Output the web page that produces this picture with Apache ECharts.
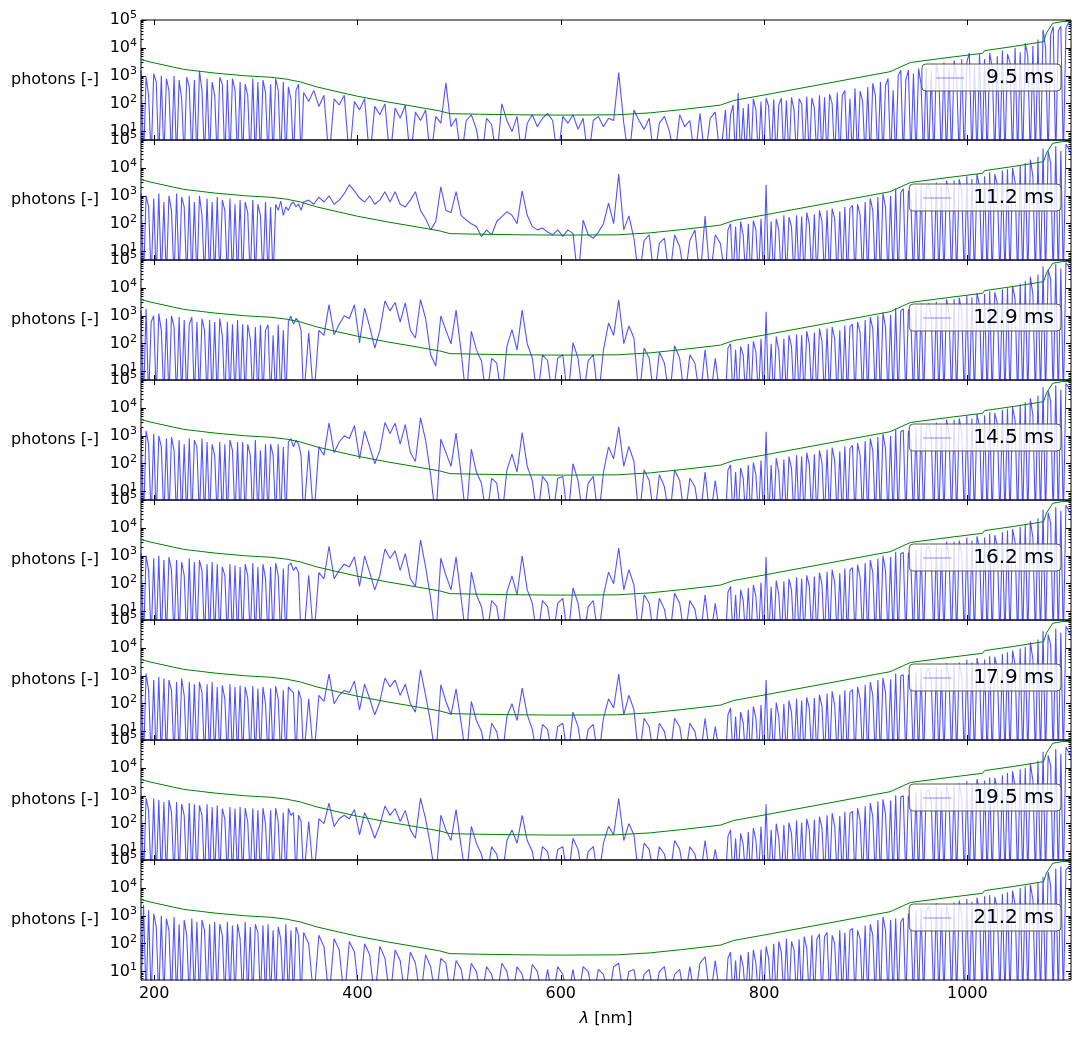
<!DOCTYPE html>
<html>
<head>
<meta charset="utf-8">
<script src="https://cdn.jsdelivr.net/npm/echarts@6/dist/echarts.min.js"></script>
<style>
html,body{margin:0;padding:0;background:#fff;}
#chart{width:1082px;height:1037px;}
</style>
</head>
<body>
<div id="chart"></div>
<script>
// wavelength grids [nm]: UV and IR sampled every 2.5 nm, visible every 5 nm
const wlUV = [187,189.5,192,194.5,197,199.5,202,204.5,207,209.5, 212,214.5,217,219.5,222,224.5,227,229.5,232,234.5,
  237,239.5,242,244.5,247,249.5,252,254.5,257,259.5, 262,264.5,267,269.5,272,274.5,277,279.5,282,284.5,
  287,289.5,292,294.5,297,299.5,302,304.5,307,309.5, 312,314.5,317,319.5,322,324.5,327,329.5,332,334.5,
  337,339.5,342,344.5];
const wlVis = [347,352,357,362,367,372,377,382,387,392, 397,402,407,412,417,422,427,432,437,442,
  447,452,457,462,467,472,477,482,487,492, 497,502,507,512,517,522,527,532,537,542,
  547,552,557,562,567,572,577,582,587,592, 597,602,607,612,617,622,627,632,637,642,
  647,652,657,662,667,672,677,682,687,692, 697,702,707,712,717,722,727,732,737,742,
  747,752,757];
const wlIR = [762,764.5,767,769.5,772,774.5,777,779.5,782,784.5, 787,789.5,792,794.5,797,799.5,802,804.5,807,809.5,
  812,814.5,817,819.5,822,824.5,827,829.5,832,834.5, 837,839.5,842,844.5,847,849.5,852,854.5,857,859.5,
  862,864.5,867,869.5,872,874.5,877,879.5,882,884.5, 887,889.5,892,894.5,897,899.5,902,904.5,907,909.5,
  912,914.5,917,919.5,922,924.5,927,929.5,932,934.5, 937,939.5,942,944.5,947,949.5,952,954.5,957,959.5,
  962,964.5,967,969.5,972,974.5,977,979.5,982,984.5, 987,989.5,992,994.5,997,999.5,1002,1004.5,1007,1009.5,
  1012,1014.5,1017,1019.5,1022,1024.5,1027,1029.5,1032,1034.5, 1037,1039.5,1042,1044.5,1047,1049.5,1052,1054.5,1057,1059.5,
  1062,1064.5,1067,1069.5,1072,1074.5,1077,1079.5,1082,1084.5, 1087,1089.5,1092,1094.5,1097,1099.5,1102];

const exposures = ['9.5 ms','11.2 ms','12.9 ms','14.5 ms','16.2 ms','17.9 ms','19.5 ms','21.2 ms'];

// photon counts (1 = below the plotted range)
const uv_9_5 = [1500,1,900,200,1,1200,600,1,1000,1, 800,300,1,1000,1,700,150,1,900,400,
  1,700,1,1500,300,1,800,1,600,200, 1,900,500,1,700,1,800,300,1,600,
  1,500,200,1,800,1,600,1,700,250, 1,500,1,800,300,1,600,1,400,150, 1,300,500,1];
const vis_9_5 = [250,120,300,80,200,1,150,90,200,1, 120,60,150,1,80,40,100,1,70,30,
  90,1,50,25,60,1,35,20,560,15, 30,1,25,40,12,1,30,18,1,100, 25,10,35,1,20,40,15,30,45,25,
  1,35,20,40,12,30,1,25,35,15, 30,25,1300,20,1,60,25,12,30,1, 20,35,10,1,40,15,25,1,45,1, 30,50,1];
const ir_9_5 = [60,1,40,90,1,240,1,70,1,100, 1,150,60,1,120,1,160,80,1,140,
  1,90,160,1,130,1,170,60,1,150, 100,1,180,1,160,70,1,200,1,170,
  1,220,100,1,250,1,200,300,1,150, 1,350,1,280,120,1,400,1,550,200,
  1,600,1,450,800,1,300,1,1000,1600, 1,700,1600,1,1200,1,1800,500,1,2000,
  1,1500,1,2500,800,1,3000,1,2000,1, 3500,1000,1,4000,1,3000,6600,1,2500,1,
  6000,1,4000,1,6600,2000,1,5000,1,8000, 1,6000,3000,1,10000,1,7000,1,15000,5000,
  1,12000,1,20000,1,44000,10000,1,30000,58000, 1,40000,60000,1,50000,80000,60000];

const uv_11_2 = [1200,1,1000,400,1,800,1,1200,1,600, 1,1000,300,1,1200,1,900,400,1,1000,
  1,600,1,1000,200,1,800,1,600,1, 900,1,700,300,1,800,1,500,1,700,
  1,600,250,1,700,1,500,200,1,600, 1,400,1,500,300,650,200,400,300,500, 600,400,500,300];
const vis_11_2 = [600,700,500,900,600,1000,500,700,1200,2500, 1500,830,600,1000,500,700,1400,600,1400,500,
  400,700,1400,300,150,60,120,2100,300,250, 1400,200,135,100,80,34,60,40,120,180,
  270,200,100,1500,200,80,60,70,50,40, 60,35,60,45,1,135,40,30,50,100,
  550,100,6000,60,190,30,1,25,40,1, 20,30,1,40,15,1,25,60,1,190, 1,40,20];
const ir_11_2 = [1,60,100,1,80,1,120,40,1,100, 1,130,60,1,150,1,2500,1,120,1,
  150,60,1,200,1,170,80,1,200,1, 180,1,250,100,1,220,1,300,120,1,
  300,1,350,150,1,280,1,400,1,350, 450,1,500,200,1,600,1,800,300,1,
  900,1,1200,400,1,1000,1,1800,1,1300, 1800,1,1500,600,1,2000,1,2500,1,1800,
  2500,900,1,3000,1,2200,1,3500,1200,1, 3500,1,4000,1500,1,5000,1,4000,1,6000,
  2000,1,5000,1,7000,1,6000,2500,1,8000, 1,9000,1,10000,3000,1,12000,1,15000,1,
  20000,5000,1,25000,1,50000,1,40000,15000,1, 60000,1,40000,1,70000,50000,30000];

const uv_12_9 = [1500,1,1800,1,600,1000,1,1200,300,1, 800,1,1000,400,1,900,1,700,1,500,
  900,1,600,1,800,300,1,700,1,600, 1,800,200,1,600,1,500,1,700,1,
  500,1,480,150,1,400,1,480,1,300, 480,1,200,1,480,1,300,1,600,980, 500,800,650,300];
const vis_12_9 = [1,240,1,300,200,2500,210,500,1000,800, 2500,107,1900,400,70,300,3400,1500,3000,600,
  2900,300,160,3800,800,40,16,980,300,100, 1600,50,1,280,60,24,1,30,20,1,
  80,320,60,1600,100,30,1,40,25,1, 30,40,1,110,30,1,25,40,1,60,
  550,200,3700,100,430,160,1,70,30,1, 50,20,1,85,30,1,40,20,1,60, 1,30,1];
const ir_12_9 = [1,70,100,1,60,1,80,40,1,100, 1,120,50,1,150,1,1400,1,100,1,
  180,60,1,150,1,200,80,1,220,1, 200,1,280,100,1,250,1,350,120,1,
  350,1,400,150,1,300,1,450,1,400, 500,1,600,250,1,700,1,900,350,1,
  1000,1,1300,400,1,1100,1,1900,1,1500, 1800,1,1700,700,1,2200,1,2800,1,2000,
  2800,1000,1,3200,1,2500,1,4000,1300,1, 4000,1,4500,1500,1,5500,1,4500,1,6500,
  2500,1,6000,1,7500,1,7000,3000,1,9000, 1,10000,1,12000,4000,1,14000,1,18000,1,
  25000,6000,1,30000,1,60000,1,45000,20000,1, 70000,1,50000,1,80000,60000,40000];

const uv_14_5 = [2000,1,1500,500,1,1200,1,1000,400,1, 800,1,900,300,1,700,1,500,1,800,
  1,700,400,1,800,1,600,1,500,200, 1,600,1,500,1,700,300,1,600,1,
  600,1,500,200,1,700,1,300,1,500, 1,500,200,1,500,1,400,1,600,800, 400,700,500,200];
const vis_14_5 = [1,300,1,400,200,2900,250,600,1000,800, 2300,150,1500,400,100,300,3000,1200,2800,500,
  2500,250,120,4400,700,40,1,770,250,80, 1250,40,1,330,50,20,1,30,20,1,
  60,220,50,1300,80,25,1,35,20,1, 30,35,1,100,25,1,20,35,1,50,
  400,150,2100,80,420,120,1,60,25,1, 40,15,1,60,25,1,30,15,1,50, 1,25,1];
const ir_14_5 = [1,60,90,1,50,1,70,30,1,90, 1,110,40,1,130,1,1400,1,90,1,
  160,50,1,140,1,180,70,1,200,1, 180,1,250,90,1,220,1,300,110,1,
  320,1,380,130,1,280,1,420,1,350, 450,1,550,200,1,650,1,800,300,1,
  900,1,1200,350,1,1000,1,1700,1,1400, 1600,1,1500,600,1,2000,1,2600,1,1900,
  2600,900,1,3000,1,2300,1,3800,1200,1, 3800,1,4200,1400,1,5200,1,4200,1,6000,
  2200,1,5500,1,7000,1,6500,2800,1,8500, 1,9500,1,11000,3500,1,13000,1,16000,1,
  22000,5500,1,28000,1,55000,1,42000,18000,1, 65000,1,45000,1,75000,55000,35000];

const uv_16_2 = [1200,1,1000,300,1,800,1,1000,1,700, 1,900,300,1,700,1,600,200,1,800,
  1,600,1,700,300,1,500,1,600,1, 500,1,400,200,1,500,1,450,1,400,
  1,500,200,1,550,1,400,1,500,150, 1,400,1,550,200,1,350,1,450,550, 300,400,250,1];
const vis_16_2 = [1,200,1,250,150,2200,150,300,500,400, 920,80,1000,250,60,200,1750,800,1500,300,
  1200,150,80,3700,400,30,1,830,200,60, 920,30,1,260,40,15,1,25,15,1,
  50,190,40,1000,60,20,1,25,15,1, 20,30,1,70,20,1,15,25,1,40,
  260,100,1900,60,320,90,1,40,20,1, 30,12,1,45,20,1,25,12,1,40, 1,20,1];
const ir_16_2 = [1,50,80,1,40,1,60,25,1,70, 1,90,35,1,110,1,900,1,80,1,
  130,40,1,120,1,150,60,1,170,1, 150,1,200,80,1,180,1,250,90,1,
  270,1,320,110,1,240,1,350,1,300, 380,1,480,170,1,550,1,700,250,1,
  800,1,1000,300,1,900,1,1400,1,1200, 1300,1,1300,500,1,1600,1,2200,1,1600,
  2200,800,1,2500,1,2000,1,3200,1000,1, 3200,1,3500,1200,1,4500,1,3500,1,5000,
  1800,1,4500,1,6000,1,5500,2200,1,7000, 1,8000,1,9000,3000,1,11000,1,13000,1,
  18000,4500,1,22000,1,45000,1,35000,15000,1, 55000,1,40000,1,65000,45000,30000];

const uv_17_9 = [1000,1,1200,300,1,700,1,900,1,800, 1,700,300,1,600,1,800,200,1,600,
  1,500,1,600,250,1,500,1,600,1, 400,1,450,150,1,500,1,400,1,450,
  1,400,150,1,430,1,350,1,400,100, 1,350,1,430,150,1,300,1,400,300, 250,1,300,150];
const vis_17_9 = [1,150,1,200,120,1150,100,200,300,250, 650,60,500,150,40,120,830,400,700,200,
  500,100,50,1650,200,20,1,480,120,40, 340,20,1,120,25,10,1,20,10,1,
  35,100,25,360,40,12,1,18,12,1, 15,20,1,50,15,1,12,18,1,30,
  150,70,1150,40,200,60,1,30,15,1, 20,10,1,30,15,1,20,10,1,30, 1,15,1];
const ir_17_9 = [1,40,70,1,35,1,50,20,1,60, 1,80,30,1,90,1,700,1,70,1,
  110,35,1,100,1,130,50,1,150,1, 130,1,170,70,1,160,1,210,80,1,
  230,1,280,90,1,210,1,300,1,260, 320,1,400,150,1,480,1,600,200,1,
  700,1,850,250,1,750,1,1200,1,1000, 1100,1,1100,400,1,1400,1,1900,1,1400,
  1900,700,1,2200,1,1700,1,2800,900,1, 2700,1,3000,1000,1,3800,1,3000,1,4300,
  1500,1,3800,1,5000,1,4800,1900,1,6000, 1,7000,1,8000,2500,1,9500,1,11000,1,
  16000,4000,1,20000,1,40000,1,30000,13000,1, 50000,1,35000,1,60000,40000,28000];

const uv_19_5 = [1000,1,830,300,1,800,1,700,1,600, 1,700,250,1,600,1,500,200,1,550,
  1,500,1,450,200,1,500,1,400,1, 450,1,350,150,1,400,1,350,1,400,
  1,360,120,1,350,1,300,1,360,100, 1,300,1,360,120,1,250,1,350,200, 250,1,200,120];
const vis_19_5 = [1,120,1,150,100,550,80,150,200,150, 320,40,250,100,30,90,430,200,350,120,
  300,60,30,830,150,15,1,200,60,25, 320,15,1,80,20,8,1,15,8,1,
  25,60,20,200,25,10,1,15,10,1, 12,15,1,30,12,1,10,15,1,20,
  80,40,800,25,100,40,1,20,12,1, 15,8,1,25,12,1,15,8,1,25, 1,12,1];
const ir_19_5 = [1,35,60,1,30,1,45,18,1,50, 1,70,25,1,80,1,500,1,60,1,
  100,30,1,90,1,110,45,1,130,1, 110,1,150,60,1,140,1,180,70,1,
  200,1,240,80,1,190,1,270,1,230, 280,1,360,130,1,420,1,550,180,1,
  620,1,750,220,1,680,1,1050,1,900, 1000,1,1000,350,1,1300,1,1700,1,1300,
  1700,600,1,2000,1,1500,1,2500,800,1, 2400,1,2800,900,1,3400,1,2700,1,4000,
  1400,1,3500,1,4500,1,4400,1700,1,5500, 1,6500,1,7500,2200,1,9000,1,10000,1,
  15000,3500,1,18000,1,38000,1,28000,12000,1, 48000,1,32000,1,55000,38000,25000];

const uv_21_2 = [1,2500,1,1600,1,1200,400,1,1000,1, 800,300,1,900,1,500,1,700,200,1,
  800,1,600,1,700,300,1,500,1,600, 1,500,200,1,600,1,450,1,500,150,
  1,600,1,400,1,500,250,1,450,1, 500,1,300,1,400,150,1,500,1,300, 1,400,200,1];
const vis_21_2 = [250,100,1,200,80,1,150,60,1,120, 50,1,100,40,1,80,30,1,60,25,
  1,50,20,1,40,15,1,30,20,1, 25,12,1,20,10,1,15,8,1,20,
  10,1,15,8,1,18,10,1,12,1, 15,8,1,12,1,15,10,1,12,8,
  1,15,20,1,10,12,1,8,12,1, 10,15,1,8,12,1,15,1,20,34, 1,25,1];
const ir_21_2 = [1,30,50,1,25,1,40,15,1,50, 1,60,20,1,60,1,80,30,1,100,
  1,120,50,1,150,1,120,60,1,140, 1,180,70,1,200,1,150,220,1,180,
  250,1,200,100,1,310,1,250,1,300, 350,1,300,150,1,450,1,500,200,1,
  700,1,930,300,1,700,1,800,1,600, 830,1,1200,400,1,1500,1,2000,1,1500,
  2200,800,1,2900,1,2000,1,2500,900,1, 3000,1,3500,1200,1,4000,1,3200,1,4500,
  1500,1,5000,1,5600,1,4800,2000,1,6000, 1,7000,1,8000,2500,1,10000,1,12000,1,
  13000,4000,1,15000,1,25000,1,38000,12000,1, 50000,1,58000,1,45000,55000,40000];

// green reference curve
const refWl  = [187,200,229,260,290,314,330,344,360,380,400,430,460,481,491,520,560,600,655,688,720,757,770,800,850,900,924,944,980,1015,1017,1045,1075,1078,1084,1093,1102];
const refVal = [3800,2900,1700,1250,1000,890,760,600,400,270,185,115,75,55,44,42,40,39,40,47,62,89,130,205,445,970,1400,3000,4460,6400,8000,11200,16700,35000,76000,87000,90000];

const xTicks = [200,400,600,800,1000];
const yMajor = [10,100,1000,10000,100000];
const yMinor = [6,7,8,9,20,30,40,50,60,70,80,90,200,300,400,500,600,700,800,900,
  2000,3000,4000,5000,6000,7000,8000,9000,20000,30000,40000,50000,60000,70000,80000,90000];

const wavelengths = wlUV.concat(wlVis, wlIR);
const spectra = [
    uv_9_5.concat(vis_9_5, ir_9_5),
    uv_11_2.concat(vis_11_2, ir_11_2),
    uv_12_9.concat(vis_12_9, ir_12_9),
    uv_14_5.concat(vis_14_5, ir_14_5),
    uv_16_2.concat(vis_16_2, ir_16_2),
    uv_17_9.concat(vis_17_9, ir_17_9),
    uv_19_5.concat(vis_19_5, ir_19_5),
    uv_21_2.concat(vis_21_2, ir_21_2)
];

const font = 'DejaVu Sans';
const chart = echarts.init(document.getElementById('chart'));

let grids = [], xAxes = [], yAxes = [], series = [], legends = [];
exposures.forEach((name, i) => {
    const top = 20 + 120 * i;
    const last = i === exposures.length - 1;
    grids.push({left: 141, right: 11, top: top, height: 120, show: true,
        borderColor: '#000', borderWidth: 1, backgroundColor: 'transparent'});
    ['bottom', 'top'].forEach(pos => {
        xAxes.push({
            type: 'value', gridIndex: i, min: 187, max: 1102, position: pos,
            axisLine: {show: false}, splitLine: {show: false},
            axisTick: {inside: true, length: 5, customValues: xTicks, lineStyle: {color: '#000'}},
            axisLabel: {show: last && pos === 'bottom', customValues: xTicks, margin: 6,
                formatter: v => String(v),
                fontSize: 16, color: '#000', fontFamily: font},
            name: last && pos === 'bottom' ? '{i|λ} [nm]' : '',
            nameLocation: 'middle', nameGap: 31,
            nameTextStyle: {fontSize: 16, color: '#000', fontFamily: font,
                rich: {i: {fontStyle: 'italic', fontSize: 16, fontFamily: font}}}
        });
    });
    ['left', 'right'].forEach(pos => {
        yAxes.push({
            type: 'log', logBase: 10, gridIndex: i, min: 5, max: 100000, position: pos,
            axisLine: {show: false}, splitLine: {show: false},
            axisTick: {inside: true, length: 5, customValues: yMajor, lineStyle: {color: '#000'}},
            axisLabel: {show: pos === 'left', customValues: yMajor, margin: 4,
                formatter: v => '{b|10}{e|' + Math.round(Math.log10(v)) + '}',
                rich: {
                    b: {fontSize: 16, color: '#000', fontFamily: font},
                    e: {fontSize: 11, color: '#000', fontFamily: font, padding: [0, 0, 9, 0]}
                }},
            name: pos === 'left' ? 'photons [-]' : '',
            nameLocation: 'middle', nameRotate: 0, nameGap: 42,
            nameTextStyle: {fontSize: 16, color: '#000', fontFamily: font}
        });
        yAxes.push({
            type: 'log', logBase: 10, gridIndex: i, min: 5, max: 100000, position: pos,
            axisLine: {show: false}, splitLine: {show: false}, axisLabel: {show: false},
            axisTick: {inside: true, length: 2.5, customValues: yMinor, lineStyle: {color: '#000'}}
        });
    });
    const counts = spectra[i];
    series.push({
        name: name, type: 'line', xAxisIndex: 2 * i, yAxisIndex: 4 * i,
        data: wavelengths.map((w, k) => [w, counts[k]]).filter(p => p[1] > 0),
        symbol: 'none', animation: false, z: 2,
        lineStyle: {color: 'rgba(0,0,255,0.68)', width: 1.1},
        itemStyle: {color: 'rgba(0,0,255,0.45)'}
    });
    series.push({
        name: 'reference', type: 'line', xAxisIndex: 2 * i, yAxisIndex: 4 * i,
        data: refWl.map((w, k) => [w, refVal[k]]),
        symbol: 'none', animation: false, z: 3,
        lineStyle: {color: '#008000', width: 1}
    });
    legends.push({
        data: [name], right: 21, top: top + 44, selectedMode: false,
        icon: 'rect', itemWidth: 28, itemHeight: 1,
        backgroundColor: 'rgba(255,255,255,0.8)', borderColor: '#555', borderWidth: 1,
        borderRadius: 4, padding: [4, 7, 3, 14],
        textStyle: {fontSize: 20, color: '#000', fontFamily: font, padding: [0, 0, 0, 17]}
    });
});

chart.setOption({
    backgroundColor: '#fff',
    animation: false,
    textStyle: {fontFamily: font},
    grid: grids,
    xAxis: xAxes,
    yAxis: yAxes,
    legend: legends,
    series: series
});
</script>
</body>
</html>
